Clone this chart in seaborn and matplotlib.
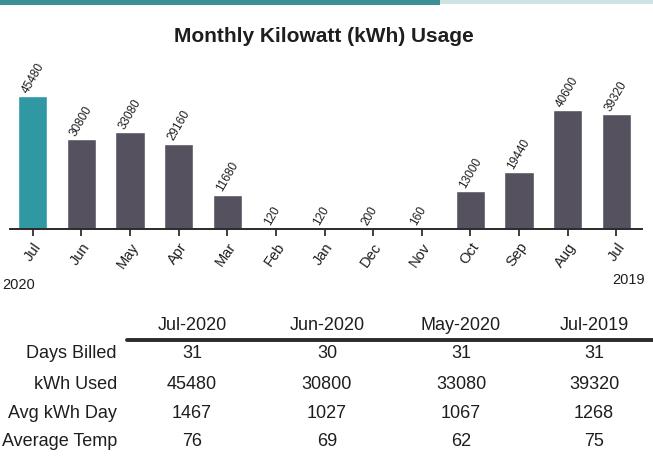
import matplotlib
matplotlib.use("Agg")
import matplotlib.pyplot as plt
from matplotlib.patches import Rectangle
from matplotlib.lines import Line2D
import pandas as pd
import seaborn as sns

# Monthly usage, most recent bill first
months = ["Jul", "Jun", "May", "Apr", "Mar", "Feb", "Jan",
          "Dec", "Nov", "Oct", "Sep", "Aug", "Jul"]
periods = ["Jul-2020", "Jun-2020", "May-2020", "Apr-2020", "Mar-2020",
           "Feb-2020", "Jan-2020", "Dec-2019", "Nov-2019", "Oct-2019",
           "Sep-2019", "Aug-2019", "Jul-2019"]
kwh = [45480, 30800, 33080, 29160, 11680, 120, 120,
       200, 160, 13000, 19440, 40600, 39320]

# Billing summary table
table_cols = ["Jul-2020", "Jun-2020", "May-2020", "Jul-2019"]
row_labels = ["Days Billed", "kWh Used", "Avg kWh Day", "Average Temp"]
days_billed = [31, 30, 31, 31]
kwh_used = [45480, 30800, 33080, 39320]
avg_kwh_day = [1467, 1027, 1067, 1268]
avg_temp = [76, 69, 62, 75]
table_rows = [days_billed, kwh_used, avg_kwh_day, avg_temp]

TEAL = "#2f98a3"
GRAY = "#56515e"
INK = "#1e1e1e"

sns.set_theme(style="white")
plt.rcParams["font.family"] = ["Liberation Sans", "DejaVu Sans"]

W, H = 653, 465
fig = plt.figure(figsize=(W / 100, H / 100), dpi=100)
fig.patch.set_facecolor("white")

def fx(px):
    return px / W

def fy(py):
    return 1 - py / H

# header band
fig.patches.append(Rectangle((0, fy(5)), fx(440), 5 / H, transform=fig.transFigure,
                             facecolor="#3c8f95", edgecolor="none"))
fig.patches.append(Rectangle((fx(440), fy(4)), fx(213), 4 / H, transform=fig.transFigure,
                             facecolor="#cfe3e4", edgecolor="none"))

ax = fig.add_axes([fx(10), fy(229), fx(632), 146 / H])

df = pd.DataFrame({"period": periods, "kwh": kwh})
palette = {p: (TEAL if i == 0 else GRAY) for i, p in enumerate(periods)}
sns.barplot(data=df, x="period", y="kwh", hue="period", order=periods,
            palette=palette, width=0.6, saturation=1, legend=False, ax=ax)

ax.set_xlim(-0.47, 12.53)
ax.set_ylim(0, 50000)
ax.set_xlabel("")
ax.set_ylabel("")
ax.set_yticks([])
ax.set_xticks(range(len(months)))
ax.set_xticklabels(months, rotation=55, ha="right", rotation_mode="anchor",
                   fontsize=10.5, color=INK)
ax.tick_params(axis="x", direction="out", length=5, width=1.2, pad=3,
               colors=INK, bottom=True)
for s in ["top", "left", "right"]:
    ax.spines[s].set_visible(False)
ax.spines["bottom"].set_color("#2a2a2a")
ax.spines["bottom"].set_linewidth(1.4)
ax.set_facecolor("none")

for i, v in enumerate(kwh):
    ax.text(i - 0.06, v + 350, f"{v}", rotation=60, ha="left", va="bottom",
            rotation_mode="anchor", fontsize=8.5, color=INK, clip_on=False)

fig.text(fx(324), fy(37), "Monthly Kilowatt (kWh) Usage", ha="center", va="center",
         fontsize=15, fontweight="bold", color=INK)

fig.text(fx(2), fy(285), "2020", ha="left", va="center", fontsize=10.5, color=INK)
fig.text(fx(645), fy(280), "2019", ha="right", va="center", fontsize=10.5, color=INK)

# summary table
col_x = [192, 327, 461, 594]
header_y = 326
row_y = [354, 384, 413, 441]
for cx, name in zip(col_x, table_cols):
    fig.text(fx(cx), fy(header_y), name, ha="center", va="center",
             fontsize=13, color=INK)
fig.add_artist(Line2D([fx(127), fx(653)], [fy(340), fy(340)],
                      transform=fig.transFigure, color="#2b2b2b", linewidth=2.8))
for ry, label, vals in zip(row_y, row_labels, table_rows):
    fig.text(fx(117), fy(ry), label, ha="right", va="center", fontsize=13, color=INK)
    for cx, v in zip(col_x, vals):
        fig.text(fx(cx), fy(ry), f"{v}", ha="center", va="center",
                 fontsize=13, color=INK)

fig.savefig("out.png", dpi=100, facecolor="white")
